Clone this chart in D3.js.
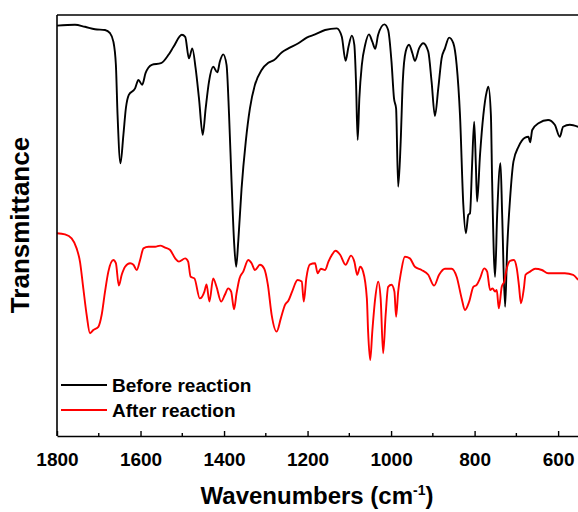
<!DOCTYPE html>
<html lang="en">
<head>
    <meta charset="UTF-8">
    <title>FTIR spectra before and after reaction</title>
    <script src="https://d3js.org/d3.v7.min.js"></script>
    <style>
        body {
            margin: 0;
            background: #fff;
        }
        text {
            font-family: "Liberation Sans", Arial, sans-serif;
            font-weight: bold;
        }
    </style>
</head>
<body>
    <div id="chart"></div>
    <script>
        // Wavenumbers (cm-1) and transmittance (arb. units)
        const beforeWn = [1800, 1757, 1733, 1709, 1685, 1673, 1665, 1659, 1655, 1648, 1641, 1635, 1628, 1613, 1605, 1596, 1588, 1573, 1551, 1533, 1521, 1501, 1493, 1484, 1476, 1468, 1460, 1451, 1444, 1436, 1426, 1416, 1410, 1402, 1394, 1388, 1382, 1376, 1371, 1366, 1358, 1348, 1338, 1326, 1310, 1294, 1280, 1262, 1246, 1222, 1202, 1182, 1158, 1130, 1118, 1109, 1102, 1094, 1088, 1084, 1080, 1076, 1070, 1062, 1053, 1045, 1038, 1031, 1016, 1007, 999, 993, 988, 983, 977, 972, 965, 957, 949, 943, 933, 923, 911, 903, 895, 887, 879, 871, 861, 851, 843, 835, 827, 821, 815, 811, 806, 801, 797, 794, 787, 779, 771, 767, 761, 758, 751, 746, 738, 734, 727, 722, 715, 707, 695, 679, 671, 667, 662, 647, 624, 608, 596, 588, 572, 552];
        const beforeT = [102.6, 102.8, 102.3, 101.7, 101.5, 100.7, 98.6, 92.8, 80.3, 68.2, 75.3, 82.0, 85.3, 86.9, 89.0, 87.8, 90.7, 92.8, 93.2, 95.3, 97.3, 100.3, 99.8, 94.4, 96.9, 91.9, 84.4, 75.3, 81.9, 88.6, 92.3, 90.9, 93.6, 95.4, 92.8, 80.3, 63.6, 48.6, 42.3, 48.6, 61.9, 73.6, 81.9, 87.8, 91.5, 93.3, 94.0, 95.9, 96.9, 98.2, 99.6, 100.4, 101.5, 101.9, 99.8, 93.8, 97.3, 100.1, 97.8, 88.6, 74.0, 84.4, 92.8, 97.8, 100.4, 98.6, 96.8, 100.3, 102.9, 101.5, 93.6, 84.4, 81.9, 62.3, 73.6, 88.6, 96.1, 97.8, 95.7, 93.8, 96.9, 98.2, 96.1, 88.6, 80.0, 86.9, 94.4, 96.9, 99.6, 98.2, 92.8, 80.3, 57.8, 50.7, 55.3, 55.7, 67.8, 78.6, 67.8, 58.6, 70.3, 80.3, 86.1, 87.3, 80.3, 63.6, 39.8, 55.3, 68.2, 55.3, 32.3, 46.9, 59.4, 68.6, 72.3, 74.6, 74.8, 73.4, 76.5, 78.2, 79.0, 77.8, 74.8, 77.3, 77.8, 77.3];

        const afterWn = [1800, 1781, 1765, 1753, 1745, 1737, 1729, 1721, 1713, 1701, 1693, 1685, 1677, 1665, 1659, 1652, 1645, 1637, 1625, 1617, 1609, 1601, 1593, 1581, 1565, 1553, 1541, 1529, 1517, 1508, 1493, 1486, 1480, 1471, 1458, 1447, 1442, 1435, 1426, 1418, 1407, 1398, 1390, 1383, 1376, 1370, 1363, 1354, 1342, 1334, 1326, 1314, 1304, 1295, 1286, 1274, 1264, 1254, 1246, 1237, 1224, 1214, 1209, 1203, 1194, 1182, 1176, 1168, 1158, 1150, 1141, 1133, 1122, 1109, 1096, 1088, 1081, 1074, 1067, 1058, 1055, 1050, 1045, 1038, 1031, 1025, 1019, 1013, 1007, 999, 992, 988, 983, 976, 967, 955, 943, 927, 911, 897, 885, 871, 855, 843, 831, 823, 813, 803, 795, 787, 777, 770, 763, 757, 751, 747, 742, 735, 729, 723, 715, 706, 699, 694, 689, 682, 678, 667, 655, 639, 624, 608, 584, 564, 552];
        const afterT = [50.7, 50.4, 49.4, 46.9, 43.6, 36.9, 30.3, 25.7, 26.5, 27.3, 30.3, 36.1, 41.1, 44.0, 43.2, 37.6, 40.3, 42.3, 43.2, 42.8, 41.5, 44.0, 46.9, 47.3, 47.3, 47.6, 47.1, 46.5, 44.4, 43.6, 44.4, 43.6, 39.8, 39.4, 34.4, 36.1, 37.9, 33.6, 39.4, 37.3, 33.6, 35.3, 36.9, 36.1, 31.7, 35.7, 39.4, 41.1, 44.0, 43.2, 41.5, 42.8, 41.9, 37.8, 30.3, 26.1, 29.4, 32.8, 33.8, 36.1, 39.0, 38.6, 33.6, 39.4, 42.9, 43.2, 40.7, 41.8, 41.5, 43.6, 45.4, 46.3, 45.3, 42.8, 45.1, 43.6, 40.3, 42.3, 41.1, 34.4, 26.1, 19.0, 26.1, 34.4, 38.6, 34.4, 20.7, 30.3, 37.3, 37.8, 36.1, 29.8, 36.1, 41.1, 44.8, 44.4, 42.3, 41.5, 40.3, 37.6, 40.3, 41.8, 41.8, 39.8, 34.4, 31.5, 33.6, 37.3, 37.8, 39.4, 41.9, 41.1, 36.5, 36.9, 36.1, 36.5, 31.9, 37.3, 38.6, 41.9, 43.8, 44.0, 41.9, 37.8, 33.2, 36.9, 40.3, 41.1, 41.8, 41.5, 40.7, 40.7, 40.7, 40.3, 39.0];

        const seriesNames = ["Before reaction", "After reaction"];
        const seriesColors = ["#000000", "#ff0000"];
        const majorTicks = [1800, 1600, 1400, 1200, 1000, 800, 600];
        const minorTicks = [1700, 1500, 1300, 1100, 900, 700];

        const width = 578;
        const height = 512;
        const margin = { top: 15, right: -1, bottom: 76, left: 57 };

        const svg = d3.select("#chart")
            .append("svg")
            .attr("width", width)
            .attr("height", height);

        const x = d3.scaleLinear()
            .domain([1800, 550])
            .range([margin.left, width - margin.right]);

        const y = d3.scaleLinear()
            .domain([0, 105.25])
            .range([height - margin.bottom, margin.top]);

        const series = [
            { name: seriesNames[0], color: seriesColors[0], wn: beforeWn, t: beforeT },
            { name: seriesNames[1], color: seriesColors[1], wn: afterWn, t: afterT }
        ];

        const line = d3.line()
            .x(d => x(d[0]))
            .y(d => y(d[1]))
            .curve(d3.curveMonotoneX);

        // spectra
        series.forEach(s => {
            svg.append("path")
                .datum(s.wn.map((w, i) => [w, s.t[i]]))
                .attr("fill", "none")
                .attr("stroke", s.color)
                .attr("stroke-width", 1.9)
                .attr("stroke-linejoin", "round")
                .attr("d", line);
        });

        // frame: top and left borders
        svg.append("line")
            .attr("x1", margin.left).attr("x2", width)
            .attr("y1", margin.top).attr("y2", margin.top)
            .attr("stroke", "#000").attr("stroke-width", 1.6);
        svg.append("line")
            .attr("x1", margin.left).attr("x2", margin.left)
            .attr("y1", margin.top).attr("y2", height - margin.bottom)
            .attr("stroke", "#000").attr("stroke-width", 1.6);

        // bottom axis, ticks pointing inward
        const xAxis = svg.append("g")
            .attr("transform", `translate(0,${height - margin.bottom})`)
            .call(d3.axisBottom(x).tickValues(majorTicks).tickSize(-5).tickPadding(17).tickSizeOuter(0).tickFormat(d3.format("d")));
        xAxis.select(".domain").attr("stroke-width", 1.6);
        xAxis.selectAll(".tick line").attr("stroke-width", 1.4);
        xAxis.selectAll("text")
            .attr("font-size", 19)
            .attr("font-family", "'Liberation Sans', Arial, sans-serif")
            .attr("font-weight", "bold")
            .attr("fill", "#000");

        svg.append("g")
            .selectAll("line")
            .data(minorTicks)
            .enter().append("line")
            .attr("x1", d => x(d)).attr("x2", d => x(d))
            .attr("y1", height - margin.bottom).attr("y2", height - margin.bottom - 3)
            .attr("stroke", "#000").attr("stroke-width", 1.4);

        // axis titles
        const xTitle = svg.append("text")
            .attr("x", 317)
            .attr("y", 504)
            .attr("text-anchor", "middle")
            .attr("font-size", 24);
        xTitle.append("tspan").text("Wavenumbers (cm");
        xTitle.append("tspan").attr("dy", -9).attr("font-size", 14).text("-1");
        xTitle.append("tspan").attr("dy", 9).text(")");

        svg.append("text")
            .attr("transform", "translate(29,225) rotate(-90)")
            .attr("text-anchor", "middle")
            .attr("font-size", 26)
            .text("Transmittance");

        // legend
        const legend = svg.selectAll(".legend")
            .data(series)
            .enter().append("g")
            .attr("class", "legend")
            .attr("transform", (d, i) => `translate(61,${385 + i * 25})`);

        legend.append("line")
            .attr("x1", 0).attr("x2", 46)
            .attr("stroke", d => d.color)
            .attr("stroke-width", 1.8);

        legend.append("text")
            .attr("x", 51)
            .attr("y", 7)
            .attr("font-size", 19)
            .text(d => d.name);
    </script>
</body>
</html>
